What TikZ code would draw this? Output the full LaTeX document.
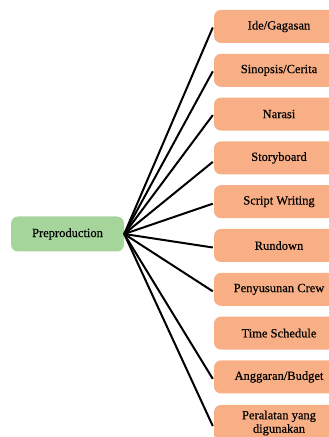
\documentclass[tikz,border=0pt]{standalone}
\usepackage{fontspec}
\setmainfont{Liberation Serif}
\newfontfamily\boxfont[FakeBold=0.4]{Liberation Serif}
\usepackage{tikz}
\definecolor{prepgreen}{RGB}{166,213,156}
\definecolor{steporange}{RGB}{248,175,133}

\begin{document}
\begin{tikzpicture}[x=1pt, y=1pt,
	mainbox/.style={fill=prepgreen, rounded corners=7pt, minimum width=113pt, minimum height=35pt, inner sep=0pt, font=\boxfont\fontsize{12.5}{13.5}\selectfont},
	stepbox/.style={fill=steporange, rounded corners=7pt, minimum width=130pt, minimum height=33pt, inner sep=0pt, align=center, font=\boxfont\fontsize{12.5}{13.5}\selectfont},
	link/.style={line width=2pt, color=black}]
			%%%%% START %%%%%
			
			\clip (0, 0) rectangle (329, 437);
			
			\node[mainbox] (prep) at (67.5, 203) {Preproduction};
			
			\node[stepbox] (ide) at (279, 410.5) {Ide/Gagasan};
			\node[stepbox] (sinopsis) at (279, 366.7) {Sinopsis/Cerita};
			\node[stepbox] (narasi) at (279, 322.9) {Narasi};
			\node[stepbox] (story) at (279, 279.1) {Storyboard};
			\node[stepbox] (script) at (279, 235.3) {Script Writing};
			\node[stepbox] (rundown) at (279, 191.5) {Rundown};
			\node[stepbox] (crew) at (279, 147.7) {Penyusunan Crew};
			\node[stepbox] (schedule) at (279, 103.9) {Time Schedule};
			\node[stepbox] (budget) at (279, 60.1) {Anggaran/Budget};
			\node[stepbox, minimum height=36pt] (alat) at (279, 14) {Peralatan yang\\digunakan};
			
			\draw[link] (prep.east) -- ([xshift=-1pt, yshift=-1pt]ide.west);
			\draw[link] (prep.east) -- ([xshift=-1pt, yshift=-1pt]sinopsis.west);
			\draw[link] (prep.east) -- ([xshift=-1pt, yshift=-1pt]narasi.west);
			\draw[link] (prep.east) -- ([xshift=-1pt, yshift=-4pt]story.west);
			\draw[link] (prep.east) -- ([xshift=-1pt, yshift=-2pt]script.west);
			\draw[link] (prep.east) -- ([xshift=-1pt, yshift=-2pt]rundown.west);
			\draw[link] (prep.east) -- ([xshift=-1pt, yshift=-2pt]crew.west);
			\draw[link] (prep.east) -- ([xshift=-1pt, yshift=-2pt]budget.west);
			\draw[link] (prep.east) -- ([xshift=-1pt, yshift=-3pt]alat.west);
			
			%%%%% END %%%%%
\end{tikzpicture}
\end{document}
